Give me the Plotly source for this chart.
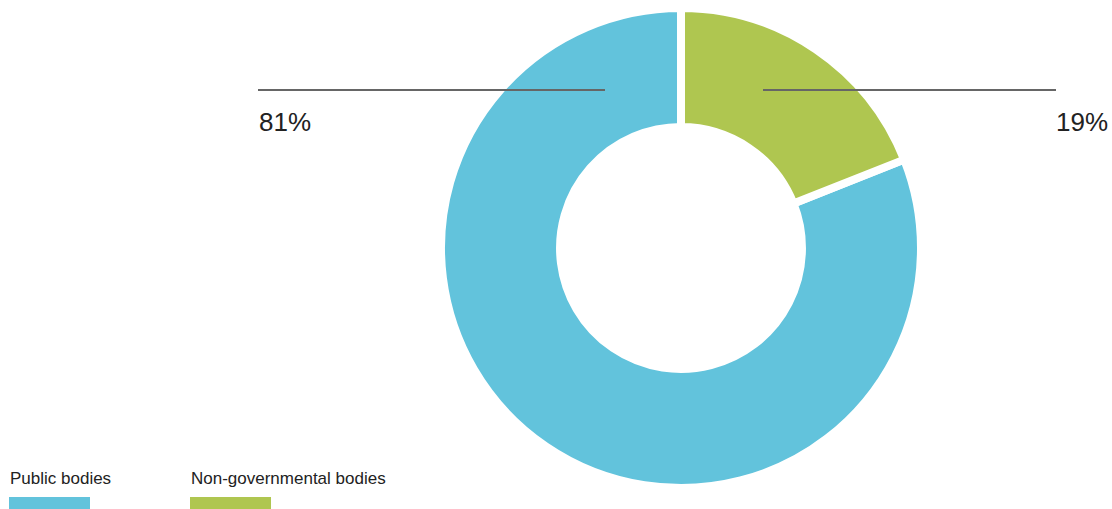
import plotly.graph_objects as go

W, H = 1112, 509

categories = ["Public bodies", "Non-governmental bodies"]
values = [81, 19]
colors = ["#62C3DC", "#AFC650"]
pct_labels = ["81%", "19%"]

def px_x(x):
    return x / W

def px_y(y):
    return 1 - y / H

cx, cy, R = 681, 248, 240

# start the first slice where the second one ends so that the small slice sits
# just right of 12 o'clock
start_angle = 360 * values[1] / sum(values)

fig = go.Figure(go.Pie(
    labels=categories,
    values=values,
    sort=False,
    direction="clockwise",
    rotation=start_angle,
    hole=0.504,
    marker=dict(colors=colors, line=dict(color="white", width=8)),
    textinfo="none",
    hoverinfo="label+percent",
    showlegend=False,
    domain=dict(x=[px_x(cx - R), px_x(cx + R)], y=[px_y(cy + R), px_y(cy - R)]),
))

shapes = []
annotations = []

# leader lines
shapes.append(dict(type="line", xref="paper", yref="paper",
                   x0=px_x(258), x1=px_x(605), y0=px_y(90), y1=px_y(90),
                   line=dict(color="#666666", width=2)))
shapes.append(dict(type="line", xref="paper", yref="paper",
                   x0=px_x(763), x1=px_x(1056), y0=px_y(90), y1=px_y(90),
                   line=dict(color="#666666", width=2)))

label_font = dict(family="Liberation Sans, Arial, sans-serif", size=26, color="#222222")
annotations.append(dict(text=pct_labels[0], xref="paper", yref="paper",
                        x=px_x(257), y=px_y(122), xanchor="left", yanchor="middle",
                        showarrow=False, font=label_font))
annotations.append(dict(text=pct_labels[1], xref="paper", yref="paper",
                        x=px_x(1110), y=px_y(122), xanchor="right", yanchor="middle",
                        showarrow=False, font=label_font))

# custom legend
leg_x = [9, 190]
leg_font = dict(family="Liberation Sans, Arial, sans-serif", size=17, color="#222222")
for name, col, lx in zip(categories, colors, leg_x):
    annotations.append(dict(text=name, xref="paper", yref="paper",
                            x=px_x(lx - 1), y=px_y(478), xanchor="left", yanchor="middle",
                            showarrow=False, font=leg_font))
    shapes.append(dict(type="rect", xref="paper", yref="paper",
                       x0=px_x(lx), x1=px_x(lx + 81), y0=px_y(509), y1=px_y(497),
                       line=dict(width=0), fillcolor=col))

fig.update_layout(
    width=W, height=H,
    margin=dict(l=0, r=0, t=0, b=0),
    paper_bgcolor="white",
    plot_bgcolor="white",
    shapes=shapes,
    annotations=annotations,
)

fig.write_html("out.html")
